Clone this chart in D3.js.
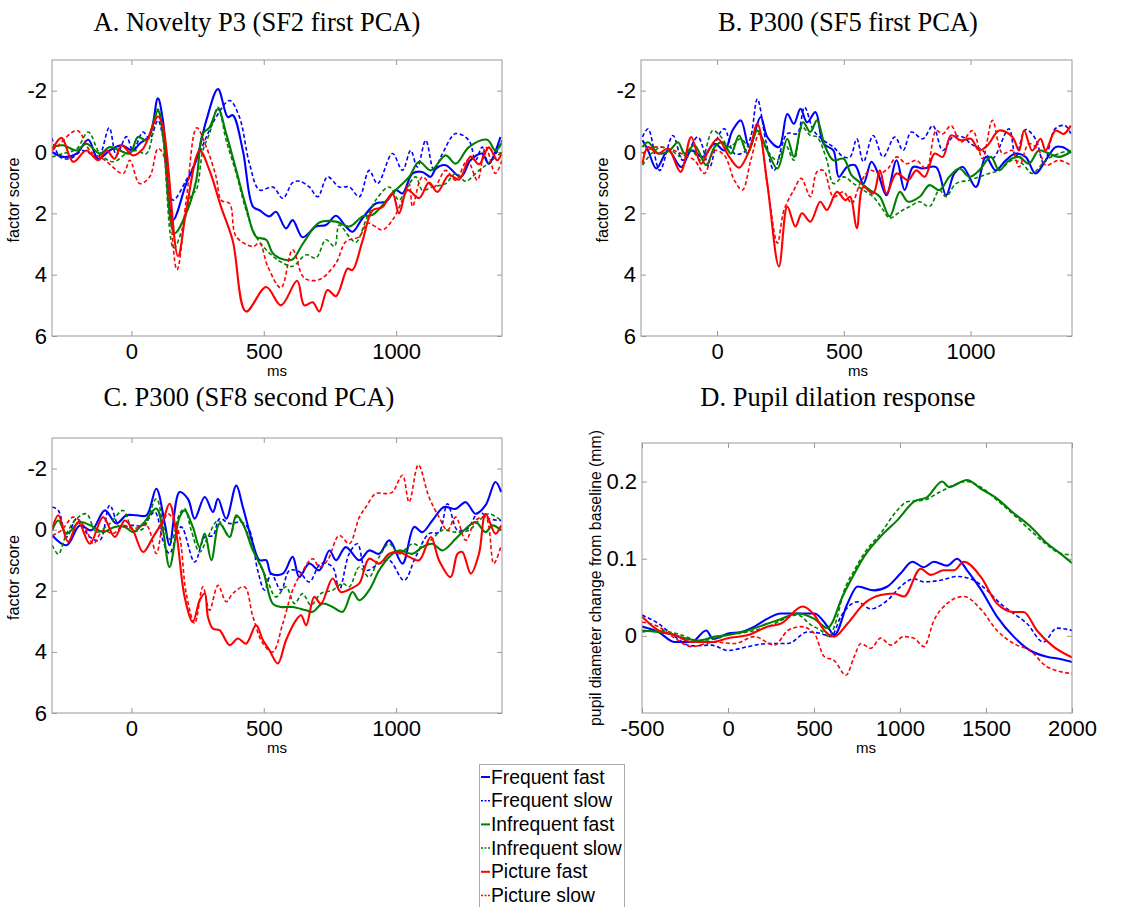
<!DOCTYPE html>
<html><head><meta charset="utf-8">
<script src="https://cdn.jsdelivr.net/npm/d3@7"></script>
<style>body{margin:0;background:#fff}svg{display:block}</style>
</head><body><svg id="c" width="1126" height="907"></svg>
<script>
// ---------- DATA ----------
const seriesNames = ["Frequent fast","Frequent slow","Infrequent fast","Infrequent slow","Picture fast","Picture slow"];
const panelTitles = ["A. Novelty P3 (SF2 first PCA)","B. P300 (SF5 first PCA)","C. P300 (SF8 second PCA)","D. Pupil dilation response"];
const erpTicksX = [0,500,1000];
const erpTicksY = [-2,0,2,4,6];
const pupilTicksX = [-500,0,500,1000,1500,2000];
const pupilTicksY = [0,0.1,0.2];

const A_ff=[[-300,0.0],[-258,0.16],[-207,0.05],[-163,-0.4],[-126,0.22],[-82,-0.05],[-38,-0.22],[6,-0.05],[31,-0.27],[69,-0.54],[100,-1.75],[119,-1.03],[157,2.22],[207,1.03],[245,0.27],[283,-1.03],[327,-2.05],[364,-1.14],[383,-1.2],[421,-0.05],[459,1.78],[484,1.9],[521,2.1],[546,1.95],[584,2.49],[609,2.22],[647,2.78],[697,2.43],[735,2.38],[773,2.08],[810,2.43],[835,2.6],[873,2.16],[923,1.68],[961,1.62],[999,1.24],[1024,1.35],[1062,0.7],[1099,0.65],[1131,0.81],[1150,0.54],[1187,0.43],[1244,0.81],[1281,0.27],[1325,0.05],[1350,0.38],[1394,-0.49]];
const A_fs=[[-300,-0.46],[-270,0.16],[-232,0.22],[-182,-0.05],[-126,0.16],[-84,-0.79],[-57,0.11],[-19,-0.5],[6,-0.05],[44,-0.65],[69,-0.43],[100,-1.03],[119,-0.49],[157,1.57],[207,0.92],[245,0.27],[289,-0.6],[320,-1.14],[371,-1.68],[408,-1.14],[446,0.38],[484,1.24],[534,1.14],[572,1.51],[609,1.0],[634,0.95],[672,1.14],[704,1.46],[741,0.81],[785,1.14],[823,1.14],[861,1.46],[898,0.6],[930,1.03],[986,0.05],[1024,0.6],[1055,-0.05],[1080,0.49],[1112,-0.38],[1143,0.6],[1175,0.05],[1225,-0.6],[1275,-0.38],[1300,0.27],[1325,-0.16],[1350,0.38],[1400,-0.38]];
const A_if=[[-300,-0.16],[-258,-0.22],[-207,-0.05],[-170,-0.27],[-119,0.05],[-82,-0.16],[-44,-0.05],[-6,0.05],[25,-0.49],[57,-0.38],[100,-1.35],[119,-0.6],[163,2.65],[207,2.0],[245,0.92],[270,-0.6],[295,-0.8],[327,-1.4],[358,-0.6],[396,0.6],[433,1.78],[471,2.76],[509,2.86],[534,3.3],[572,3.5],[609,3.5],[647,3.0],[710,2.3],[773,2.27],[823,2.43],[873,2.1],[911,2.05],[986,1.35],[1049,0.81],[1087,0.32],[1131,0.6],[1187,0.11],[1225,0.38],[1275,-0.16],[1344,-0.4],[1375,-0.05],[1400,-0.32]];
const A_is=[[-300,0.16],[-258,0.05],[-207,-0.1],[-163,-0.65],[-119,0.05],[-69,0.32],[-19,0.05],[19,-0.05],[57,0.05],[100,-1.4],[119,-0.49],[160,3.14],[195,2.43],[226,1.41],[245,1.24],[270,-0.05],[295,-0.6],[327,-1.46],[358,-0.38],[396,0.7],[433,1.89],[471,2.76],[534,3.4],[572,3.62],[609,3.73],[660,3.35],[697,3.46],[735,2.86],[767,3.08],[785,2.38],[823,2.76],[848,2.95],[886,2.22],[923,1.57],[974,1.14],[1011,1.57],[1036,1.24],[1074,0.81],[1099,1.24],[1137,1.14],[1187,1.03],[1225,0.7],[1262,0.95],[1313,0.6],[1350,0.35],[1400,0.0]];
const A_pf=[[-300,-0.05],[-264,-0.46],[-220,0.32],[-170,-0.05],[-126,0.27],[-94,-0.05],[-63,0.22],[-38,-0.22],[6,0.11],[44,-0.11],[100,-1.16],[119,-0.86],[176,3.4],[207,1.9],[258,-0.05],[295,0.6],[339,1.8],[383,2.9],[433,5.2],[509,4.4],[565,5.0],[626,4.2],[653,5.0],[685,4.9],[710,5.2],[741,4.5],[773,4.7],[817,3.8],[835,3.85],[873,2.9],[911,1.9],[948,1.8],[986,1.35],[1011,2.0],[1043,1.24],[1087,1.5],[1124,1.0],[1156,1.3],[1200,0.75],[1238,0.9],[1281,0.15],[1313,0.4],[1350,-0.15],[1382,0.27],[1400,0.0]];
const A_ps=[[-300,-0.05],[-283,-0.16],[-205,-0.7],[-157,-0.05],[-100,0.27],[-31,0.7],[-6,0.27],[31,1.03],[69,0.81],[100,-0.11],[119,0.05],[172,3.84],[207,1.57],[247,-0.79],[283,-0.16],[320,0.81],[339,1.57],[371,1.68],[396,2.76],[459,3.08],[484,2.97],[515,3.73],[565,4.43],[609,3.19],[653,4.11],[710,4.16],[773,3.62],[810,2.92],[861,2.76],[892,2.32],[948,2.54],[986,2.22],[1018,1.68],[1049,1.03],[1062,1.78],[1099,0.81],[1143,1.14],[1187,0.6],[1225,0.92],[1269,0.27],[1307,0.92],[1338,-0.16],[1375,0.7],[1400,0.27]];

const B_ff=[[-294,-0.38],[-272,-0.05],[-239,0.54],[-193,-0.05],[-141,0.49],[-102,-0.05],[-56,0.16],[-10,-0.27],[29,-0.05],[61,-0.7],[94,-1.03],[127,-0.16],[172,-1.14],[198,-0.49],[244,-0.16],[277,-1.24],[303,-0.92],[329,-1.41],[355,-0.97],[388,-1.3],[420,-0.27],[459,-0.05],[480,0.81],[512,0.49],[544,0.43],[577,1.03],[609,0.32],[635,0.7],[668,1.41],[708,0.27],[740,1.24],[773,0.49],[812,0.54],[864,0.49],[903,1.41],[936,0.7],[969,0.49],[1021,1.14],[1060,0.16],[1099,0.6],[1139,0.27],[1178,0.05],[1217,0.16],[1256,0.7],[1296,0.27],[1335,-0.16],[1361,-0.16],[1395,0.0]];
const B_fs=[[-294,-0.49],[-272,-0.76],[-226,0.6],[-174,-0.54],[-135,0.27],[-76,-0.49],[-30,0.49],[3,-0.49],[29,-0.76],[68,0.05],[107,0.0],[133,-0.49],[159,-1.73],[192,-0.38],[225,0.6],[277,-0.6],[316,-0.6],[345,-1.46],[381,-0.7],[420,-0.38],[459,-0.16],[499,0.16],[525,0.16],[551,-0.43],[577,0.32],[616,-0.54],[655,0.16],[701,-0.49],[734,-0.05],[766,-0.65],[812,-0.43],[851,-0.86],[890,-0.05],[930,-0.49],[969,-0.49],[1001,-0.27],[1047,-0.05],[1086,0.22],[1151,-0.76],[1178,0.16],[1217,-0.73],[1256,-0.43],[1289,0.38],[1334,-0.76],[1373,-0.86],[1395,-0.6]];
const B_if=[[-294,-0.16],[-272,-0.32],[-232,0.05],[-187,-0.05],[-154,-0.32],[-128,0.05],[-89,-0.22],[-43,0.43],[-10,-0.16],[22,-0.32],[55,0.05],[87,-0.54],[120,0.05],[159,-0.7],[198,-0.05],[238,0.54],[277,-0.43],[303,0.16],[339,-0.97],[368,-0.65],[394,-1.03],[427,-0.16],[459,0.27],[499,0.22],[531,0.76],[570,1.03],[603,1.24],[642,1.46],[681,2.1],[721,1.3],[753,1.62],[799,1.46],[838,1.08],[877,1.24],[916,0.81],[956,0.54],[995,0.81],[1034,0.6],[1080,0.16],[1113,0.6],[1151,0.27],[1191,0.16],[1230,0.38],[1269,-0.05],[1309,0.05],[1348,0.16],[1395,0.0]];
const B_is=[[-294,0.43],[-259,0.05],[-219,-0.16],[-180,-0.05],[-141,0.16],[-102,-0.05],[-63,0.27],[-17,-0.7],[16,-0.49],[48,-0.16],[94,-0.43],[127,-0.16],[159,-0.7],[198,-0.05],[238,0.27],[270,-0.22],[303,0.27],[335,-0.81],[368,-0.54],[394,-0.49],[433,0.27],[459,1.03],[499,0.81],[538,1.03],[577,1.24],[616,1.46],[655,1.89],[681,2.16],[721,1.95],[760,1.78],[799,1.62],[838,1.78],[877,1.24],[903,1.46],[942,1.03],[995,0.92],[1034,0.81],[1073,0.7],[1113,0.6],[1165,0.27],[1204,0.38],[1243,0.7],[1296,0.27],[1348,0.05],[1395,-0.05]];
const B_pf=[[-294,0.38],[-272,-0.16],[-232,0.05],[-193,-0.11],[-144,0.65],[-102,-0.49],[-63,0.38],[-30,-0.11],[3,-0.43],[48,0.16],[87,0.51],[127,-0.05],[159,-0.92],[198,1.03],[244,3.73],[277,1.78],[309,2.43],[335,2.0],[368,2.27],[407,1.62],[433,1.89],[473,1.3],[506,1.57],[525,1.46],[551,2.49],[577,1.14],[616,1.35],[642,0.6],[668,1.35],[708,0.7],[753,0.92],[786,0.6],[819,0.81],[858,0.05],[890,0.16],[923,-0.54],[962,-0.38],[1001,-0.43],[1034,-0.05],[1067,-0.22],[1113,-0.7],[1165,-0.49],[1191,-0.05],[1211,-0.7],[1243,-0.05],[1276,-0.43],[1296,-0.05],[1335,-0.7],[1367,-0.59],[1395,-0.86]];
const B_ps=[[-294,0.05],[-245,-0.16],[-193,-0.11],[-141,0.05],[-89,0.27],[-50,0.7],[-10,-0.05],[29,0.11],[68,0.92],[100,1.24],[133,0.27],[166,-0.6],[198,1.03],[238,2.97],[264,1.89],[303,1.24],[332,0.86],[368,1.46],[394,0.65],[420,0.6],[459,1.46],[499,1.3],[531,1.68],[564,1.03],[603,0.6],[642,0.7],[674,0.54],[708,0.16],[747,0.38],[786,0.27],[825,0.54],[864,-0.7],[890,-0.59],[923,-0.86],[962,-0.32],[1008,-0.7],[1047,0.22],[1086,-1.03],[1126,0.05],[1165,-0.05],[1191,0.49],[1230,-0.27],[1269,-0.05],[1296,0.43],[1348,0.27],[1395,0.43]];

const C_ff=[[-299,0.19],[-245,0.51],[-195,-0.14],[-151,0.02],[-100,-0.63],[-57,-0.2],[-19,-0.47],[19,-0.47],[57,-0.47],[94,-1.34],[126,-0.2],[144,0.51],[182,-1.23],[214,-1.0],[239,-0.36],[277,-1.07],[308,-0.58],[327,-1.01],[358,-0.36],[396,-1.44],[421,-0.74],[459,0.46],[484,1.0],[509,1.0],[528,1.44],[572,1.44],[609,0.89],[634,1.55],[672,1.11],[710,1.33],[748,0.68],[773,1.0],[810,0.57],[861,1.0],[898,0.68],[936,0.79],[974,0.35],[1024,1.11],[1068,-0.09],[1099,0.08],[1137,-0.3],[1181,-0.74],[1225,-0.68],[1263,-0.9],[1300,-0.52],[1338,-0.8],[1375,-1.56],[1397,-1.23]];
const C_fs=[[-299,-0.74],[-276,-0.63],[-245,0.24],[-207,-0.36],[-157,0.24],[-119,0.35],[-82,-0.8],[-44,-0.09],[0,-0.14],[44,-0.14],[88,-0.58],[119,0.35],[144,0.78],[188,-0.09],[239,1.06],[277,0.24],[308,0.19],[333,-0.36],[371,-0.2],[415,-0.25],[446,0.02],[477,1.33],[503,1.98],[528,1.44],[565,1.98],[597,1.33],[634,1.38],[672,1.71],[716,1.11],[760,1.22],[785,1.98],[823,0.78],[854,0.46],[886,1.33],[936,1.11],[974,1.0],[1030,1.66],[1074,0.89],[1124,0.13],[1162,0.08],[1194,-0.85],[1232,0.02],[1269,-0.03],[1313,-0.58],[1350,-0.36],[1397,-0.3]];
const C_if=[[-299,0.02],[-276,-0.3],[-245,0.13],[-195,-0.25],[-144,-0.09],[-107,0.08],[-63,-0.09],[-25,-0.09],[6,0.08],[44,-0.2],[94,-0.69],[119,0.02],[144,1.22],[182,-0.41],[201,-0.63],[232,-0.09],[258,0.57],[277,0.13],[302,1.0],[333,-0.2],[371,0.24],[396,-0.47],[421,-0.2],[459,0.68],[497,1.33],[534,2.42],[565,2.53],[609,2.53],[660,2.64],[685,2.69],[722,2.42],[760,2.53],[798,2.69],[835,2.04],[861,2.31],[898,1.98],[936,1.33],[974,0.89],[1011,0.68],[1062,0.79],[1099,0.57],[1137,0.46],[1175,0.68],[1225,0.3],[1263,-0.03],[1300,-0.25],[1338,0.08],[1363,-0.14],[1397,0.02]];
const C_is=[[-299,0.51],[-276,0.8],[-245,0.13],[-207,-0.36],[-170,-0.52],[-132,0.08],[-82,-0.2],[-31,-0.63],[6,0.02],[44,-0.03],[94,-1.01],[126,0.02],[151,0.35],[182,-0.52],[201,-0.69],[226,0.02],[258,0.73],[289,0.24],[327,-0.3],[371,0.24],[396,-0.41],[433,0.02],[471,0.89],[509,1.55],[546,2.2],[584,1.87],[616,2.42],[647,2.09],[678,2.47],[716,2.09],[760,1.98],[798,1.76],[823,1.87],[861,1.22],[898,1.55],[936,0.89],[974,0.46],[1011,0.79],[1062,0.46],[1099,0.57],[1137,0.3],[1175,0.02],[1225,0.08],[1275,0.02],[1313,-0.3],[1350,-0.52],[1397,-0.3]];
const C_pf=[[-299,-0.03],[-276,-0.47],[-239,0.4],[-201,-0.25],[-157,0.46],[-107,-0.41],[-63,0.24],[-25,-0.3],[6,0.02],[44,0.73],[82,0.24],[119,-0.3],[144,-0.85],[170,0.13],[201,2.2],[232,3.02],[258,2.31],[277,2.09],[289,2.85],[308,3.24],[333,3.29],[371,3.78],[402,3.56],[433,3.73],[471,3.13],[497,3.62],[521,3.94],[553,4.38],[584,3.62],[622,2.96],[641,2.8],[660,3.13],[691,2.2],[716,2.42],[760,1.6],[791,2.04],[829,1.93],[861,1.76],[898,0.95],[936,1.11],[974,0.79],[1011,0.73],[1049,0.89],[1087,1.0],[1131,0.24],[1162,1.0],[1206,1.55],[1232,0.79],[1250,0.73],[1282,1.44],[1313,0.79],[1338,-0.52],[1375,0.13],[1397,-0.14]];
const C_ps=[[-299,0.19],[-264,0.02],[-220,-0.41],[-176,-0.09],[-144,0.46],[-107,0.02],[-69,0.13],[-31,-0.14],[6,-0.03],[57,-0.14],[94,0.78],[119,-0.2],[138,-0.52],[176,0.02],[207,2.09],[239,3.07],[270,1.87],[295,2.64],[327,1.82],[358,2.36],[383,2.09],[427,1.87],[459,2.85],[497,3.73],[534,4.0],[572,3.07],[609,1.98],[641,1.44],[685,0.95],[710,1.22],[741,1.0],[785,0.19],[823,0.46],[861,-0.41],[886,-0.74],[923,-1.18],[961,-1.18],[986,-1.23],[1024,-1.78],[1049,-0.9],[1084,-2.12],[1124,-1.07],[1162,-0.41],[1194,0.02],[1225,-0.41],[1263,0.35],[1300,-0.3],[1338,-0.41],[1369,1.11],[1397,0.51]];

const D_ff=[[-500,0.012],[-405,0.005],[-309,-0.008],[-212,-0.008],[-126,0.007],[-87,-0.004],[0,0.003],[77,0.005],[154,0.012],[212,0.02],[309,0.029],[405,0.029],[502,0.029],[579,0.012],[618,0.001],[695,0.042],[753,0.064],[850,0.059],[927,0.064],[1004,0.081],[1072,0.096],[1139,0.089],[1197,0.096],[1274,0.091],[1332,0.1],[1390,0.085],[1468,0.061],[1564,0.025],[1661,-0.001],[1757,-0.019],[1854,-0.027],[1931,-0.03],[2002,-0.034]];
const D_fs=[[-500,0.027],[-405,0.016],[-309,-0.001],[-212,-0.013],[-97,-0.012],[0,-0.019],[116,-0.014],[232,-0.01],[348,-0.01],[463,0.005],[541,0.003],[599,-0.001],[656,0.025],[753,0.044],[830,0.035],[927,0.046],[1004,0.064],[1081,0.074],[1139,0.07],[1236,0.072],[1332,0.077],[1429,0.072],[1506,0.059],[1583,0.042],[1661,0.029],[1738,0.016],[1834,-0.008],[1911,0.01],[2002,0.007]];
const D_if=[[-500,0.007],[-405,0.005],[-328,0.002],[-251,-0.003],[-174,-0.006],[-77,-0.001],[0,0.001],[116,0.007],[232,0.016],[309,0.022],[405,0.029],[502,0.022],[579,0.01],[608,0.018],[656,0.046],[714,0.072],[792,0.103],[888,0.129],[985,0.15],[1081,0.174],[1159,0.18],[1245,0.2],[1284,0.193],[1390,0.202],[1468,0.191],[1564,0.178],[1661,0.159],[1757,0.142],[1854,0.12],[1931,0.107],[2002,0.094]];
const D_is=[[-500,0.005],[-405,0.007],[-270,0.001],[-174,-0.006],[-77,-0.004],[0,0.001],[116,0.005],[232,0.012],[309,0.02],[405,0.027],[483,0.014],[541,0.007],[589,-0.001],[618,0.012],[676,0.059],[734,0.085],[792,0.107],[888,0.133],[985,0.163],[1043,0.174],[1139,0.176],[1236,0.187],[1390,0.2],[1468,0.193],[1564,0.176],[1661,0.157],[1757,0.137],[1854,0.118],[1931,0.107],[2002,0.105]];
const D_pf=[[-500,0.025],[-405,0.007],[-309,0.001],[-212,-0.008],[-97,-0.008],[0,-0.003],[116,0.001],[232,0.012],[309,0.016],[434,0.038],[502,0.027],[560,0.007],[618,-0.001],[695,0.016],[792,0.042],[888,0.053],[965,0.055],[1023,0.051],[1120,0.087],[1178,0.079],[1255,0.085],[1313,0.085],[1371,0.096],[1468,0.077],[1564,0.042],[1661,0.031],[1719,0.031],[1796,0.007],[1892,-0.014],[2002,-0.028]];
const D_ps=[[-500,0.018],[-405,0.012],[-309,-0.003],[-212,-0.014],[-77,-0.008],[39,-0.01],[154,-0.001],[270,-0.012],[348,0.007],[425,0.012],[502,0.003],[560,-0.027],[618,-0.032],[686,-0.051],[734,-0.027],[772,-0.01],[830,-0.016],[888,-0.003],[946,-0.012],[1023,-0.001],[1081,-0.003],[1139,-0.014],[1197,0.02],[1274,0.042],[1371,0.051],[1468,0.035],[1564,0.007],[1661,-0.01],[1757,-0.019],[1854,-0.04],[2002,-0.049]];

// ---------- STYLE / LAYOUT ----------
const colors = ["#0000ff","#0000ff","#008000","#008000","#ff0000","#ff0000"];
const dashed = [false,true,false,true,false,true];
const SANS = "'Liberation Sans', Arial, Helvetica, sans-serif";
const SERIF = "'Liberation Serif', 'Times New Roman', serif";

const panels = [
  {title:panelTitles[0], tx:257, ty:31, x0:52, x1:502, y0:60, y1:336, xd:[-300,1400], yd:[-3,6], inv:true, xt:erpTicksX, yt:erpTicksY, ylab:"factor score", msx:277, data:[A_ff,A_fs,A_if,A_is,A_pf,A_ps]},
  {title:panelTitles[1], tx:848, ty:31, x0:641, x1:1072, y0:60, y1:336, xd:[-300,1400], yd:[-3,6], inv:true, xt:erpTicksX, yt:erpTicksY, ylab:"factor score", msx:858, data:[B_ff,B_fs,B_if,B_is,B_pf,B_ps]},
  {title:panelTitles[2], tx:249, ty:406, x0:52, x1:502, y0:438, y1:713, xd:[-300,1400], yd:[-3,6], inv:true, xt:erpTicksX, yt:erpTicksY, ylab:"factor score", msx:277, data:[C_ff,C_fs,C_if,C_is,C_pf,C_ps]},
  {title:panelTitles[3], tx:838, ty:406, x0:642, x1:1072, y0:443, y1:713, xd:[-500,2000], yd:[-0.1,0.25], inv:false, xt:pupilTicksX, yt:pupilTicksY, ylab:"pupil diameter change from baseline (mm)", msx:866, data:[D_ff,D_fs,D_if,D_is,D_pf,D_ps]}
];

const fmtInt = d => String(d);              // plain hyphen-minus, as in the source
const fmtDec = d => d === 0 ? "0" : d.toFixed(1);

const svg = d3.select("#c");
const defs = svg.append("defs");

panels.forEach((p,i)=>{
  const x = d3.scaleLinear().domain(p.xd).range([p.x0,p.x1]);
  const y = d3.scaleLinear().domain(p.yd).range(p.inv?[p.y0,p.y1]:[p.y1,p.y0]);
  const g = svg.append("g");
  defs.append("clipPath").attr("id","clip"+i).append("rect")
    .attr("x",p.x0).attr("y",p.y0).attr("width",p.x1-p.x0).attr("height",p.y1-p.y0);

  g.append("text").attr("x",p.tx).attr("y",p.ty).attr("text-anchor","middle")
    .attr("font-family",SERIF).attr("font-size",26.5).text(p.title);

  const tk = 5;
  const axB = d3.axisBottom(x).tickValues(p.xt).tickSize(-tk).tickPadding(7).tickFormat(fmtInt);
  const axT = d3.axisTop(x).tickValues(p.xt).tickSize(-tk).tickFormat("");
  const axL = d3.axisLeft(y).tickValues(p.yt).tickSize(-tk).tickPadding(5).tickFormat(p.inv?fmtInt:fmtDec);
  const axR = d3.axisRight(y).tickValues(p.yt).tickSize(-tk).tickFormat("");
  const gb = g.append("g").attr("transform",`translate(0,${p.y1})`).call(axB);
  const gt = g.append("g").attr("transform",`translate(0,${p.y0})`).call(axT);
  const gl = g.append("g").attr("transform",`translate(${p.x0},0)`).call(axL);
  const gr = g.append("g").attr("transform",`translate(${p.x1},0)`).call(axR);
  [gb,gt,gl,gr].forEach(a=>{
    a.select(".domain").remove();
    a.selectAll(".tick line").attr("stroke","#999").attr("stroke-width",1);
    a.selectAll(".tick text").attr("font-family",SANS).attr("font-size",22).attr("fill","#000");
  });

  const line = d3.line().x(d=>x(d[0])).y(d=>y(d[1]))
    .curve(p.inv ? d3.curveCatmullRom.alpha(0.5) : d3.curveMonotoneX);
  const lg = g.append("g").attr("clip-path",`url(#clip${i})`);
  p.data.forEach((s,k)=>{
    lg.append("path").datum(s).attr("d",line).attr("fill","none")
      .attr("stroke",colors[k]).attr("stroke-width",dashed[k]?1.6:2.1)
      .attr("stroke-dasharray",dashed[k]?"4,2.5":null)
      .attr("stroke-linejoin","round");
  });

  g.append("rect").attr("x",p.x0).attr("y",p.y0).attr("width",p.x1-p.x0).attr("height",p.y1-p.y0)
    .attr("fill","none").attr("stroke","#999").attr("stroke-width",1);

  g.append("text").attr("x",p.msx).attr("y",p.y1+40).attr("text-anchor","middle")
    .attr("font-family",SANS).attr("font-size",15).text("ms");
  const lx = p.inv ? p.x0-33 : p.x0-41;
  g.append("text").attr("transform",`translate(${lx},${p.inv?(p.y0+p.y1)/2+2:578}) rotate(-90)`)
    .attr("text-anchor","middle").attr("font-family",SANS).attr("font-size",p.inv?16.3:15.8).text(p.ylab);
});

// legend
const leg = svg.append("g");
leg.append("rect").attr("x",479.5).attr("y",764.5).attr("width",145).attr("height",160)
  .attr("fill","#fff").attr("stroke","#aaa").attr("stroke-width",1);
seriesNames.forEach((n,k)=>{
  const yy = 777 + k*23.7;
  leg.append("line").attr("x1",481).attr("x2",490).attr("y1",yy).attr("y2",yy)
    .attr("stroke",colors[k]).attr("stroke-width",dashed[k]?1.5:2)
    .attr("stroke-dasharray",dashed[k]?"2,1.5":null);
  leg.append("text").attr("x",491).attr("y",yy+6.5).attr("font-family",SANS).attr("font-size",19.3).text(n);
});
</script></body></html>
